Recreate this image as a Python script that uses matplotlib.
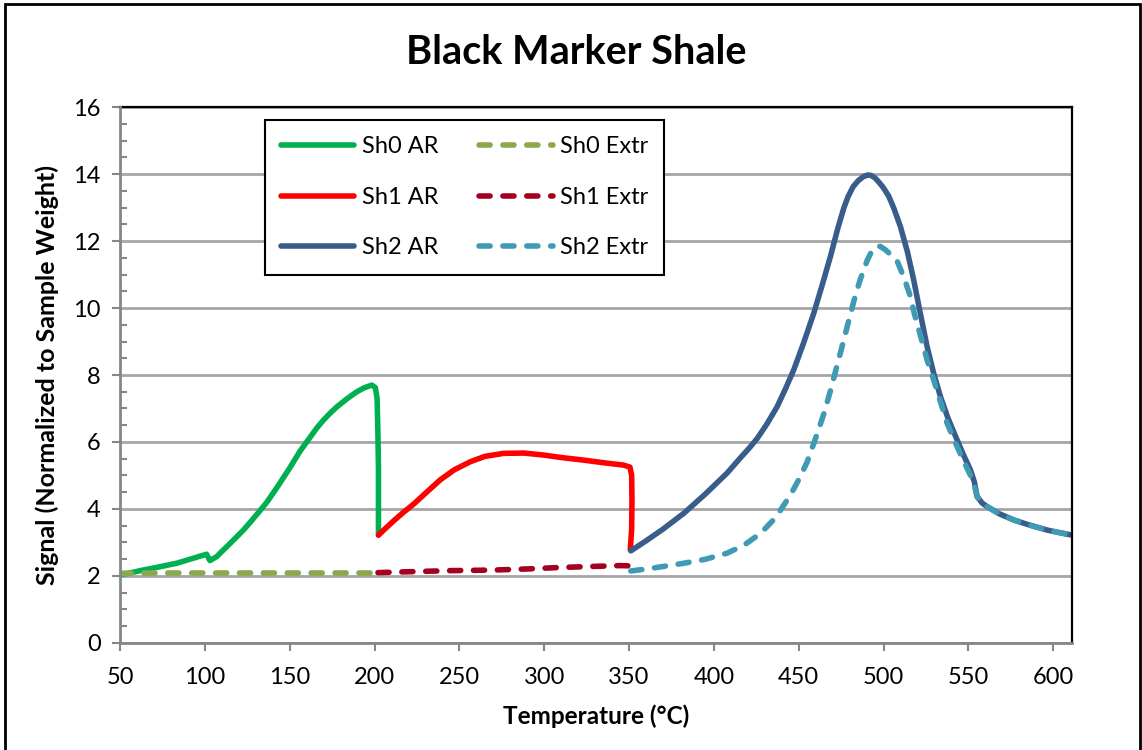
import matplotlib
matplotlib.use('Agg')
import matplotlib.pyplot as plt
from matplotlib.patches import Rectangle
from matplotlib.ticker import MultipleLocator

plt.rcParams['font.family'] = ['Lato', 'DejaVu Sans']

# temperature (C) / normalized signal, as-received runs
sh0_ar_t = [50, 55, 63.8, 72, 83.4, 93.2, 101, 103, 107, 111, 117, 122.7, 127, 131, 136.5, 143,
            150.2, 156, 162, 166, 170, 174, 177.8, 184, 189.6, 194, 198.4, 200.5, 201.5, 202, 202.3, 202.3, 202.3]
sh0_ar_s = [2.05, 2.08, 2.18, 2.26, 2.38, 2.53, 2.65, 2.46, 2.58, 2.78, 3.08, 3.37, 3.62, 3.86, 4.20, 4.68,
            5.24, 5.72, 6.14, 6.42, 6.66, 6.87, 7.05, 7.30, 7.50, 7.62, 7.70, 7.62, 7.30, 6.20, 5.16, 4.20, 3.22]

sh1_ar_t = [202.3, 206, 212, 217, 222.9, 230, 238.7, 247, 256.4, 265, 276, 288, 299.6, 311,
            323.2, 335, 346.8, 350.5, 351.5, 351.7, 351.5, 350.7]
sh1_ar_s = [3.22, 3.40, 3.68, 3.90, 4.14, 4.47, 4.87, 5.17, 5.41, 5.57, 5.66, 5.67, 5.61, 5.53,
            5.46, 5.38, 5.31, 5.25, 5.00, 4.27, 3.40, 2.78]

sh2_ar_t = [351, 360, 370, 382.2, 395, 407.7, 416, 421, 425.4, 431, 437.2, 442, 447, 453, 458.8, 464,
            468.6, 473, 476.5, 479, 482, 485, 488, 490.5, 492.5, 495, 497.5, 500, 503, 506, 509.9,
            514, 517.7, 521.5, 525.6, 529.5, 533.5, 538, 543.3, 547, 551.2, 553.5, 555.1, 558, 561,
            568, 576.8, 586, 596.4, 604, 611]
sh2_ar_s = [2.75, 3.05, 3.40, 3.87, 4.45, 5.07, 5.55, 5.83, 6.10, 6.52, 7.05, 7.57, 8.15, 8.98, 9.84, 10.72,
            11.53, 12.38, 12.98, 13.32, 13.62, 13.80, 13.92, 13.97, 13.96, 13.88, 13.74, 13.58, 13.34,
            12.98, 12.43, 11.68, 10.84, 9.87, 8.85, 8.05, 7.35, 6.70, 6.06, 5.62, 5.16, 4.80, 4.37,
            4.18, 4.07, 3.86, 3.67, 3.52, 3.37, 3.29, 3.22]

# extracted runs
sh0_ex_t = [50, 70, 90, 110, 130, 150, 170, 190, 202]
sh0_ex_s = [2.08, 2.09, 2.09, 2.09, 2.09, 2.09, 2.09, 2.09, 2.09]

sh1_ex_t = [202, 215, 230, 245, 260, 272, 290, 307.4, 325, 345, 351]
sh1_ex_s = [2.10, 2.12, 2.14, 2.16, 2.17, 2.18, 2.21, 2.25, 2.28, 2.31, 2.30]

sh2_ex_t = [351, 362, 372, 382.2, 395, 407.7, 418, 427.4, 436.3, 445.1, 450, 454.9, 460.8, 465,
            468.6, 475.5, 482.4, 486, 490.3, 493, 495.5, 498, 501, 504, 508, 511.8, 515.8, 518, 522,
            525.6, 529.5, 533.5, 537.4, 543.3, 547, 551.2, 553.5, 555.1, 558, 561, 568, 576.8, 586,
            596.4, 604, 611]
sh2_ex_s = [2.15, 2.22, 2.30, 2.38, 2.50, 2.68, 2.93, 3.27, 3.74, 4.42, 4.88, 5.40, 6.24, 6.88,
            7.52, 8.85, 10.20, 10.82, 11.42, 11.70, 11.84, 11.84, 11.74, 11.60, 11.40, 10.93, 10.34,
            9.85, 9.12, 8.45, 7.85, 7.20, 6.56, 5.86, 5.45, 5.00, 4.70, 4.37, 4.18, 4.07, 3.86, 3.67,
            3.52, 3.37, 3.29, 3.22]

GREEN = '#00B050'
RED = '#FF0000'
BLUE = '#385D8A'
OLIVE = '#8CA84C'
MAROON = '#A50021'
TEAL = '#3F9AB4'
GRID = '#A6A6A6'
AXIS = '#868686'

fig = plt.figure(figsize=(11.42, 7.5), dpi=100)
ax = fig.add_axes([0.1051, 0.1427, 0.8336, 0.7146])

lw = 4.0
dash = (0, (2.0, 2.3))
solid = dict(lw=lw, solid_capstyle='round', solid_joinstyle='round')
h0, = ax.plot(sh0_ar_t, sh0_ar_s, color=GREEN, label='Sh0 AR', **solid)
h1, = ax.plot(sh1_ar_t, sh1_ar_s, color=RED, label='Sh1 AR', **solid)
h2, = ax.plot(sh2_ar_t, sh2_ar_s, color=BLUE, label='Sh2 AR', **solid)
e0, = ax.plot(sh0_ex_t, sh0_ex_s, color=OLIVE, lw=lw, ls=dash, dash_capstyle='round', label='Sh0 Extr')
e1, = ax.plot(sh1_ex_t, sh1_ex_s, color=MAROON, lw=lw, ls=dash, dash_capstyle='round', label='Sh1 Extr')
e2, = ax.plot(sh2_ex_t, sh2_ex_s, color=TEAL, lw=lw, ls=dash, dash_capstyle='round', label='Sh2 Extr')

ax.set_xlim(50, 611)
ax.set_ylim(0, 16)
ax.xaxis.set_major_locator(MultipleLocator(50))
ax.yaxis.set_major_locator(MultipleLocator(2))
ax.yaxis.set_minor_locator(MultipleLocator(0.5))
ax.grid(axis='y', which='major', color=GRID, lw=2.0)
ax.set_axisbelow(True)

for s in ('top', 'right'):
    ax.spines[s].set_color('black')
    ax.spines[s].set_linewidth(1.6)
for s in ('left', 'bottom'):
    ax.spines[s].set_color(AXIS)
    ax.spines[s].set_linewidth(2.0)
    ax.spines[s].set_zorder(3)

ax.tick_params(axis='both', which='major', direction='out', length=6, width=1.5, color=AXIS,
               labelsize=17, pad=8)
ax.tick_params(axis='y', which='minor', direction='in', length=5, width=1.5, color=AXIS)
ax.tick_params(axis='x', pad=11)

ax.set_xlabel('Temperature (°C)', fontsize=17.5, fontweight='bold', labelpad=12)
ax.set_ylabel('Signal (Normalized to Sample Weight)', fontsize=18, fontweight='bold', labelpad=10)
fig.text(0.505, 0.93, 'Black Marker Shale', fontsize=28.5, fontweight='bold', ha='center', va='center')

leg = ax.legend(handles=[h0, h1, h2, e0, e1, e2], ncol=2, loc='upper left',
                bbox_to_anchor=(0.152, 0.976), borderaxespad=0, fontsize=17,
                handlelength=3.1, handletextpad=0.3, columnspacing=1.75, labelspacing=1.25,
                borderpad=0.7, fancybox=False, framealpha=1)
leg.get_frame().set_edgecolor('black')
leg.get_frame().set_linewidth(1.5)

# outer chart border
fig.patches.append(Rectangle((0.004, -0.01), 0.9945, 1.005, transform=fig.transFigure,
                             fill=False, edgecolor='black', lw=2.0))

fig.savefig('out.png', dpi=100, facecolor='white')
